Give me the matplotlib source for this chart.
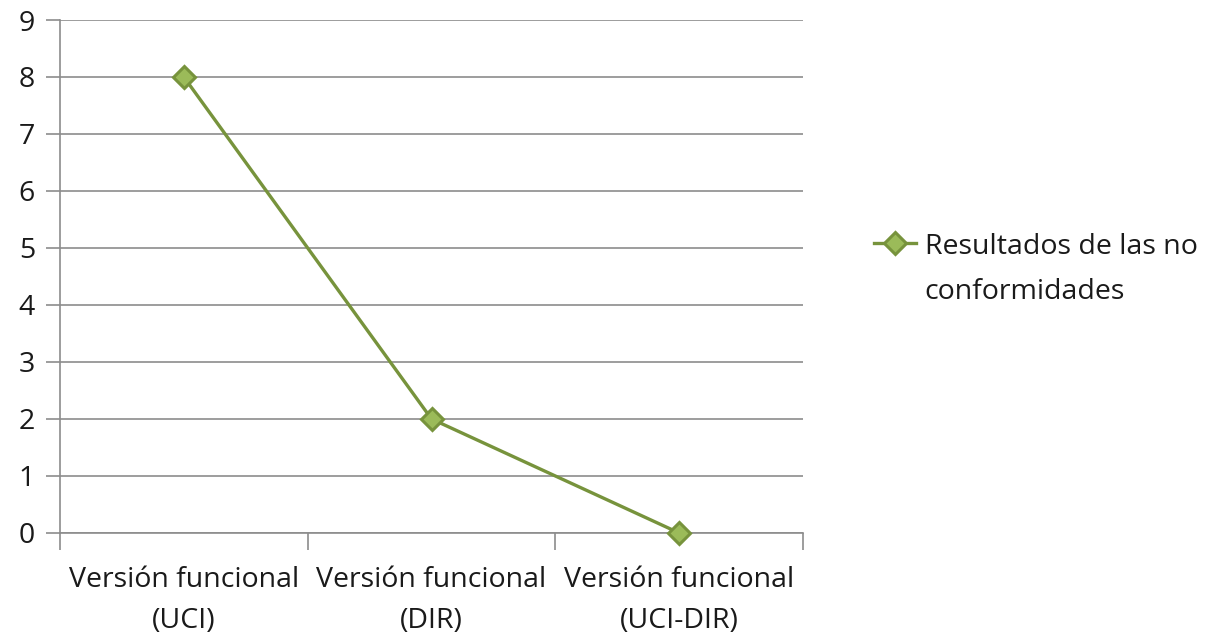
# Line chart: resultados de las no conformidades por versión funcional
import matplotlib.pyplot as plt

# ==== DATA ====
categories = ["Versión funcional\n(UCI)", "Versión funcional\n(DIR)", "Versión funcional\n(UCI-DIR)"]
values = [8, 2, 0]
series_label = "Resultados de las no\nconformidades"
y_ticks = list(range(0, 10))

# ==== STYLE ====
LINE_COLOR = "#77933C"
FACE_COLOR = "#9BBB59"
GRID_COLOR = "#8C8C8C"
TEXT_COLOR = "#1A1A1A"
FS = 20.5

plt.rcParams["font.family"] = ["Open Sans", "DejaVu Sans"]

fig = plt.figure(figsize=(12.2, 6.37), dpi=100)
ax = fig.add_axes([0.0492, 0.1633, 0.6090, 0.8053])

x = list(range(len(categories)))
ax.plot(x, values, color=LINE_COLOR, linewidth=2.4, marker="D", markersize=11,
        markerfacecolor=FACE_COLOR, markeredgecolor=LINE_COLOR, markeredgewidth=2.2,
        label=series_label, zorder=3, clip_on=False)

ax.set_xlim(-0.5, len(categories) - 0.5)
ax.set_ylim(0, 9)
ax.set_yticks(y_ticks)
ax.yaxis.grid(True, color=GRID_COLOR, linewidth=1.2)
ax.set_axisbelow(True)

# category labels centred, tick marks at category boundaries
ax.set_xticks(x)
ax.set_xticklabels(categories, fontsize=FS, color=TEXT_COLOR, linespacing=1.62)
ax.tick_params(axis="x", which="major", length=0, pad=24)
ax.set_xticks([i - 0.5 for i in range(len(categories) + 1)], minor=True)
ax.tick_params(axis="x", which="minor", length=12, width=1.2, color=GRID_COLOR, direction="out")
ax.tick_params(axis="y", length=10, width=1.2, color=GRID_COLOR, labelsize=FS,
               labelcolor=TEXT_COLOR, pad=8)

for side in ["top", "right"]:
    ax.spines[side].set_visible(False)
for side in ["left", "bottom"]:
    ax.spines[side].set_color(GRID_COLOR)
    ax.spines[side].set_linewidth(1.2)

leg = fig.legend(*ax.get_legend_handles_labels(), loc="center left",
                 bbox_to_anchor=(0.716, 0.577), frameon=False, fontsize=FS,
                 borderpad=0, borderaxespad=0, handlelength=1.5, handletextpad=0.3,
                 labelcolor=TEXT_COLOR)
for t in leg.get_texts():
    t.set_linespacing(1.8)
# put the marker beside the first line of the label, not between the lines
for col in leg._legend_handle_box.get_children():
    for row in col.get_children():
        row.align = "top"

fig.savefig("out.png", dpi=100)
